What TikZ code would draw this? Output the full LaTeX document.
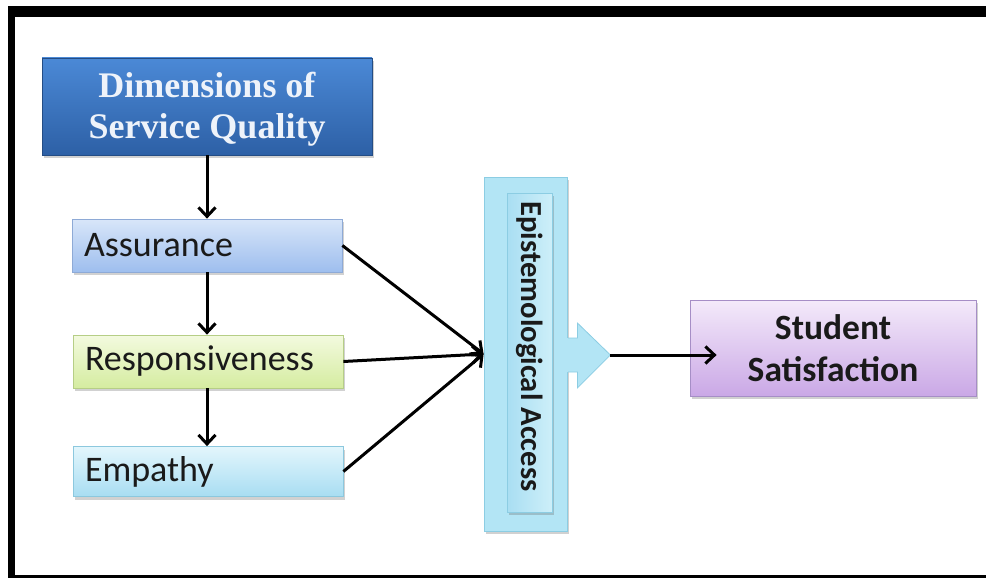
\documentclass[tikz,border=0pt]{standalone}
\usepackage{fontspec}
\setmainfont{Liberation Serif}
\setsansfont{Carlito}
\usetikzlibrary{arrows.meta,shadows,calc}
\definecolor{dimtop}{HTML}{4B89D6}
\definecolor{dimbot}{HTML}{2D60A6}
\definecolor{dimtxt}{HTML}{EEF3FA}
\definecolor{asstop}{HTML}{D8E6F9}
\definecolor{assbot}{HTML}{9EBEEE}
\definecolor{assbd}{HTML}{8EAAD6}
\definecolor{restop}{HTML}{F3FADF}
\definecolor{resbot}{HTML}{D5ECA0}
\definecolor{resbd}{HTML}{B6CE86}
\definecolor{emptop}{HTML}{E3F6FC}
\definecolor{empbot}{HTML}{A8DDF2}
\definecolor{empbd}{HTML}{8CC8DE}
\definecolor{eafill}{HTML}{B3E5F5}
\definecolor{eabd}{HTML}{8CCDE3}
\definecolor{eailt}{HTML}{CDEFF9}
\definecolor{eaidk}{HTML}{A9DEF2}
\definecolor{sstop}{HTML}{F4EAFA}
\definecolor{ssbot}{HTML}{CAA8E6}
\definecolor{ssbd}{HTML}{A68EC6}
\definecolor{txtdk}{HTML}{1A1A1A}
\begin{document}
\begin{tikzpicture}[x=1pt,y=-1pt,
  shad/.style={drop shadow={shadow xshift=2pt,shadow yshift=-3pt,opacity=0.3,fill=black!60}},
  dimbox/.style={rectangle,inner sep=0pt,minimum width=330pt,minimum height=97pt,
    top color=dimtop,bottom color=dimbot,draw=dimbot!80!black,line width=0.6pt,shad,
    text=dimtxt,font=\fontsize{36}{41}\selectfont\bfseries},
  dimbx/.style={rectangle,inner xsep=12pt,inner ysep=0pt,line width=0.8pt,shad,
    text width=246pt,align=left,text=txtdk,font=\sffamily\fontsize{36}{40}\selectfont},
  eabox/.style={rectangle,inner sep=0pt,fill=eafill,draw=eabd,line width=0.8pt},
  ssbox/.style={rectangle,inner sep=0pt,minimum width=286pt,minimum height=96pt,
    top color=sstop,bottom color=ssbot,draw=ssbd,line width=0.8pt,shad,
    align=center,text=txtdk,font=\sffamily\bfseries\fontsize{35.5}{42}\selectfont},
  conn/.style={line width=3pt,-{Straight Barb[length=9pt,width=17pt,line width=3pt]}}]
\useasboundingbox (0,0) rectangle (986,578);
% frame
\fill[black] (8,6) rectangle (986,17);
\fill[black] (8,6) rectangle (15,578);
\fill[black] (8,575) rectangle (986,578);
% nodes
\node[dimbox] (dim) at (207,106.5) {\raisebox{-10pt}[0pt][0pt]{\begin{tabular}{@{}c@{}}Dimensions of\\Service Quality\end{tabular}}};
\node[dimbx,minimum width=270pt,minimum height=53pt,top color=asstop,bottom color=assbot,draw=assbd] (ass) at (207,245.5) {Assurance};
\node[dimbx,minimum width=268pt,minimum height=53pt,top color=restop,bottom color=resbot,draw=resbd] (res) at (208,361.5) {Responsiveness};
\node[dimbx,minimum width=268pt,minimum height=50pt,top color=emptop,bottom color=empbot,draw=empbd] (emp) at (208,471.5) {Empathy};
% epistemological access block arrow
\node[eabox,minimum width=83pt,minimum height=354pt,shad] (ea) at (525.5,354) {};
\coordinate (tip) at ($(ea.east)+(43,1)$);
\fill[eafill,draw=eabd,line width=0.8pt]
  ($(ea.east)+(-0.4,-16)$) -- ($(ea.east)+(10,-16)$) -- ($(ea.east)+(10,-31)$)
  -- (tip) -- ($(ea.east)+(10,34)$) -- ($(ea.east)+(10,18)$) -- ($(ea.east)+(-0.4,18)$);
\fill[eafill] ($(ea.east)+(-1.2,-15.6)$) rectangle ($(ea.east)+(0.6,17.6)$);
\node[rectangle,inner sep=0pt,rotate=-90,minimum width=319pt,minimum height=45pt,
  left color=eaidk,right color=eailt,draw=eabd,line width=0.8pt,shad,
  text=txtdk,font=\sffamily\bfseries\fontsize{30.6}{34}\selectfont] (eai) at (529.5,352.5) {Epistemological Access\hspace*{12pt}};
\node[ssbox] (ss) at (833,348) {Student\\Satisfaction};
\coordinate (ssin) at ($(ss.west)+(27,7)$);
% connectors
\draw[conn] (dim.south -| ass.north) -- (ass.north);
\draw[conn] (ass.south) -- (ass.south |- res.north);
\draw[conn] (res.south -| ass.south) -- (emp.north -| ass.south);
\draw[conn] (ass.east) -- (ea.west);
\draw[conn] (res.east) -- (ea.west);
\draw[conn] (emp.east) -- (ea.west);
\draw[conn] (tip) -- (ssin);
\end{tikzpicture}
\end{document}
